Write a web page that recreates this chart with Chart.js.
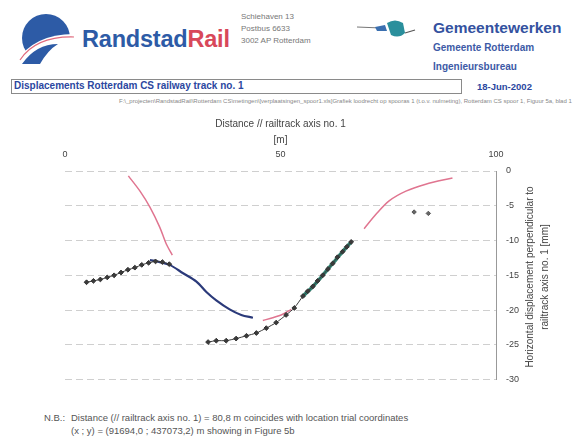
<!DOCTYPE html>
<html>
<head>
<meta charset="utf-8">
<script src="https://cdn.jsdelivr.net/npm/chart.js"></script>
<style>
body{margin:0;background:#fff;width:573px;height:446px;position:relative;overflow:hidden;font-family:"Liberation Sans",Arial,sans-serif;}
.t{position:absolute;white-space:nowrap;line-height:1;}
#rr{left:82px;top:28px;font-size:23.5px;font-weight:bold;color:#2d5ba6;letter-spacing:-0.2px;}
#rr span{color:#d8485a;}
.addr{left:241px;font-size:8px;color:#777;}
#gw{left:433px;top:20px;font-size:15.5px;font-weight:bold;color:#3452a0;}
.gws{left:433px;font-size:10px;font-weight:bold;color:#3d5aa6;}
#box{position:absolute;left:11px;top:79px;width:449px;height:13px;border:1px solid #8a8a8a;}
#ttl{left:14px;top:81px;font-size:10px;font-weight:bold;color:#2b47a0;}
#date{left:477px;top:82px;font-size:9.5px;font-weight:bold;color:#2b47a0;}
#path{left:119px;top:98px;font-size:6px;color:#888;}
#ytitle{position:absolute;left:427px;top:262px;width:220px;height:30px;font-size:10px;line-height:15px;color:#444;text-align:center;transform:rotate(-90deg);white-space:nowrap;}
#note{position:absolute;left:44px;top:412px;font-size:9.5px;line-height:12.5px;color:#555;}
#note .lab{display:inline-block;width:27px;vertical-align:top;}
#note .txt{display:inline-block;vertical-align:top;}
</style>
</head>
<body>
<svg width="100" height="75" style="position:absolute;left:0;top:0">
  <circle cx="46" cy="38" r="24" fill="#2d5ba6"/>
  <path d="M16 62 Q34 34 74 34 L74 64 Z" fill="#fff"/>
  <path d="M20 60 Q36 36 74 37" stroke="#e06a7d" stroke-width="1.2" fill="none"/>
  <path d="M22 64 Q36 44 58 44 Q48 50 40 64 Z" fill="#2d5ba6"/>
</svg>
<div class="t" id="rr">Randstad<span>Rail</span></div>
<div class="t addr" style="top:13px">Schiehaven 13</div>
<div class="t addr" style="top:25px">Postbus 6633</div>
<div class="t addr" style="top:37px">3002 AP Rotterdam</div>
<svg width="75" height="30" style="position:absolute;left:355px;top:15px">
  <line x1="2" y1="12" x2="26" y2="13" stroke="#777" stroke-width="1"/>
  <path d="M20 12 L30 10 L32 16 L22 16 Z" fill="#3b6fb0"/>
  <path d="M32 8 Q40 3 48 8 L50 18 Q44 24 36 20 Z" fill="#2a8f9c"/>
  <path d="M50 18 L60 15" stroke="#555" stroke-width="1.2"/>
</svg>
<div class="t" id="gw">Gemeentewerken</div>
<div class="t gws" style="top:43px">Gemeente Rotterdam</div>
<div class="t gws" style="top:62px">Ingenieursbureau</div>
<div id="box"></div>
<div class="t" id="ttl">Displacements Rotterdam CS railway track no. 1</div>
<div class="t" id="date">18-Jun-2002</div>
<div class="t" id="path">F:\_projecten\RandstadRail\Rotterdam CS\metingen\[verplaatsingen_spoor1.xls]Grafiek loodrecht op spooras 1 (t.o.v. nulmeting), Rotterdam CS spoor 1, Figuur 5a, blad 1</div>
<canvas id="chart" width="573" height="285" style="position:absolute;left:0;top:110px;"></canvas>
<div id="ytitle">Horizontal displacement perpendicular to<br>railtrack axis no. 1 [mm]</div>
<div id="note"><span class="lab">N.B.:</span><span class="txt">Distance (// railtrack axis no. 1) = 80,8 m coincides with location trial coordinates<br>(x ; y) = (91694,0 ; 437073,2) m showing in Figure 5b</span></div>
<script>
// distance along track [m] and displacement [mm]
const leftMarkX = [5.0, 6.6, 8.2, 9.8, 11.4, 13.0, 14.6, 16.2, 17.8, 19.4, 21.0, 22.6, 24.2];
const leftMarkY = [-16.0, -15.8, -15.6, -15.3, -15.0, -14.6, -14.2, -13.9, -13.5, -13.2, -13.0, -13.1, -13.4];

const blueX = [19.7, 22.0, 24.3, 27.4, 30.5, 32.8, 35.1, 38.2, 40.9, 43.6];
const blueY = [-12.8, -13.1, -13.5, -14.7, -15.9, -17.4, -18.6, -19.9, -20.7, -21.1];

const midMarkX = [33.2, 35.1, 37.4, 39.7, 42.1, 44.4, 46.7, 49.0, 51.3, 53.2, 55.2, 56.3, 57.5, 58.6, 59.8, 61.0, 62.1, 63.2, 64.4, 65.4, 66.4];
const midMarkY = [-24.6, -24.4, -24.4, -24.1, -23.7, -23.3, -22.6, -21.8, -20.7, -19.7, -18.0, -17.3, -16.6, -15.8, -15.0, -14.1, -13.3, -12.4, -11.6, -10.9, -10.2];

const greenX = [55.2, 57.5, 59.8, 62.1, 64.4, 66.4];
const greenY = [-18.0, -16.6, -15.0, -13.3, -11.6, -10.2];

const pinkLeftX = [14.7, 17.4, 19.7, 22.0, 23.5, 24.9];
const pinkLeftY = [-0.7, -2.9, -5.2, -8.1, -10.5, -12.1];

const pinkMidX = [45.9, 48.2, 50.5, 52.5];
const pinkMidY = [-21.5, -21.1, -20.6, -19.9];

const pinkRightX = [69.4, 72.2, 75.2, 79.1, 83.7, 89.9];
const pinkRightY = [-8.3, -6.2, -4.3, -2.9, -1.9, -1.0];

const trialX = [81.0, 84.3];
const trialY = [-5.9, -6.1];

const xTicks = [0, 50, 100];
const yTicks = [0, -5, -10, -15, -20, -25, -30];

function pts(xs, ys) {
    return xs.map(function (x, i) { return {x: x, y: ys[i]}; });
}

const pink = '#e07590';
const textCol = '#444';

function lineSet(xs, ys, color, width, order) {
    return {data: pts(xs, ys), showLine: true, borderColor: color, borderWidth: width,
        pointRadius: 0, fill: false, tension: 0.3, order: order};
}
function markSet(xs, ys, order) {
    return {data: pts(xs, ys), showLine: true, borderColor: '#3a3a3a', borderWidth: 1,
        backgroundColor: '#3a3a3a', pointStyle: 'rectRot', pointRadius: 2.4,
        pointBorderWidth: 1, pointBorderColor: '#333', tension: 0.2, order: order};
}

var ctx = document.getElementById('chart').getContext('2d');
var chart = new Chart(ctx, {
    type: 'scatter',
    data: {
        datasets: [
            lineSet(pinkLeftX, pinkLeftY, pink, 1.5, 3),
            lineSet(pinkMidX, pinkMidY, pink, 1.5, 3),
            lineSet(pinkRightX, pinkRightY, pink, 1.5, 3),
            lineSet(blueX, blueY, '#2b3a7a', 2.2, 2),
            lineSet(greenX, greenY, '#2f8070', 3.5, 2),
            markSet(leftMarkX, leftMarkY, 1),
            markSet(midMarkX, midMarkY, 1),
            {data: pts(trialX, trialY), showLine: false, backgroundColor: '#666', borderColor: '#555',
                pointStyle: 'rectRot', pointRadius: 2.2, order: 0}
        ]
    },
    options: {
        responsive: false,
        animation: false,
        layout: {padding: {left: 65, top: 0, right: 0, bottom: 12}},
        plugins: {legend: {display: false}, tooltip: {enabled: false}},
        scales: {
            x: {
                type: 'linear', position: 'top', min: 0, max: 100,
                afterFit: function (s) { s.height = 61; },
                afterBuildTicks: function (s) { s.ticks = xTicks.map(function (v) { return {value: v}; }); },
                grid: {display: false, drawTicks: false},
                border: {display: false},
                ticks: {padding: 11, color: textCol, font: {size: 9}},
                title: {display: true, text: ['Distance // railtrack axis no. 1', '[m]'], color: textCol,
                    font: {size: 10, lineHeight: 1.6}, padding: {top: 6, bottom: 0}}
            },
            y: {
                type: 'linear', position: 'right', min: -30, max: 0,
                afterFit: function (s) { s.width = 77; },
                afterBuildTicks: function (s) { s.ticks = yTicks.map(function (v) { return {value: v}; }); },
                grid: {color: '#cfcfcf', lineWidth: 1, drawTicks: false},
                border: {display: true, color: '#999', dash: [7, 4]},
                ticks: {padding: 10, color: textCol, font: {size: 9}}
            }
        }
    }
});
</script>
</body>
</html>
